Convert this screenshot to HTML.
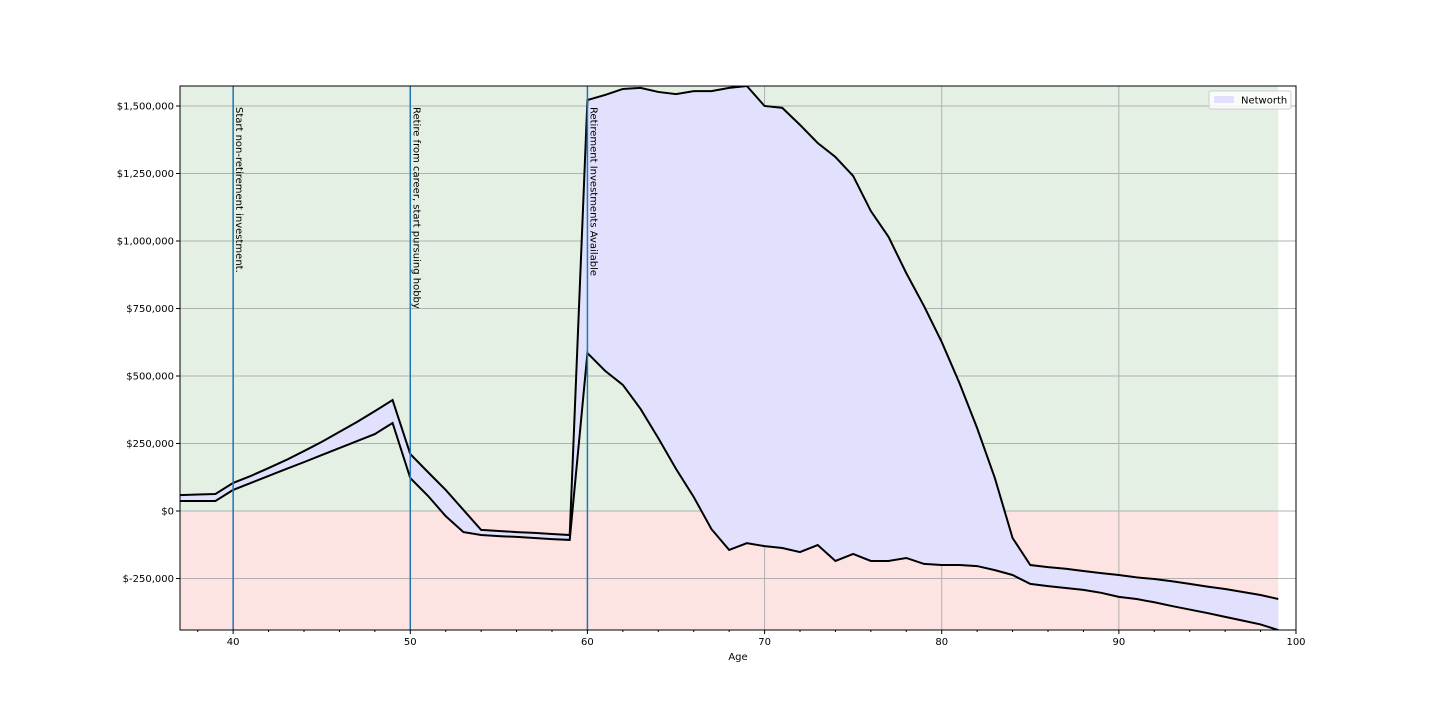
<!DOCTYPE html>
<html><head><meta charset="utf-8"><style>
body{margin:0;background:#fff;}
svg{display:block;font-family:"DejaVu Sans","Liberation Sans",sans-serif;}
</style></head><body>
<svg id="chart" width="1440" height="720"></svg>
<script>
const ages=[];for(let a=37;a<=99;a++)ages.push(a);
const upper=[59,61,63,104,130,159,189,222,256,293,330,370,411,211,144,78,4,-70,-74,-78,-81,-85,-89,1522,1541,1563,1567,1552,1544,1555,1555,1567,1574,1500,1493,1430,1363,1311,1241,1111,1015,881,759,626,474,307,122,-100,-200,-208,-214,-222,-230,-237,-246,-252,-260,-270,-280,-289,-300,-311,-326];
const lower=[37,37,37,78,104,130,156,181,207,233,259,285,326,122,56,-19,-78,-89,-93,-96,-100,-104,-107,585,519,467,378,270,156,52,-67,-144,-119,-130,-137,-152,-126,-185,-159,-185,-185,-174,-196,-200,-200,-204,-219,-237,-270,-278,-285,-292,-303,-318,-326,-338,-352,-365,-378,-392,-406,-420,-441];
const yTicks=[-250,0,250,500,750,1000,1250,1500];
const yTickLabels=["$-250,000","$0","$250,000","$500,000","$750,000","$1,000,000","$1,250,000","$1,500,000"];
const xTicks=[40,50,60,70,80,90,100];
const events=[40,50,60];
const eventLabels=["Start non-retirement investment.","Retire from career, start pursuing hobby","Retirement Investments Available"];
const L=180,R=1296,T=86,B=630,X0=37,X1=100,Y0=-440.7,Y1=1574;
const sx=v=>L+(v-X0)/(X1-X0)*(R-L);
const sy=v=>B-(v-Y0)/(Y1-Y0)*(B-T);
const NS="http://www.w3.org/2000/svg";
const svg=document.getElementById('chart');
function mk(tag,attrs,parent){const e=document.createElementNS(NS,tag);for(const k in attrs)e.setAttribute(k,attrs[k]);(parent||svg).appendChild(e);return e;}
const defs=mk('defs',{});const cp=mk('clipPath',{id:'clip'},defs);mk('rect',{x:L,y:T,width:R-L,height:B-T},cp);
const g=mk('g',{'clip-path':'url(#clip)'});
let e=mk('rect',{x:sx(X0),y:T,width:sx(99)-sx(X0),height:sy(0)-T,fill:'#e5f0e5'},g);


e=mk('rect',{x:sx(X0),y:sy(0),width:sx(99)-sx(X0),height:B-sy(0),fill:'#fee3e3'},g);


yTicks.forEach(v=>{mk('line',{x1:L,x2:R,y1:sy(v),y2:sy(v),stroke:'#b0b0b0','stroke-width':1},g);});
xTicks.forEach(v=>{mk('line',{x1:sx(v),x2:sx(v),y1:T,y2:B,stroke:'#b0b0b0','stroke-width':1},g);});
let pts=ages.map((a,i)=>sx(a)+','+sy(upper[i]));
let pts2=ages.map((a,i)=>sx(a)+','+sy(lower[i])).reverse();
e=mk('polygon',{points:pts.concat(pts2).join(' '),fill:'#e1e1fd'},g);


e=mk('polyline',{points:pts.join(' '),fill:'none',stroke:'#000','stroke-width':2},g);


e=mk('polyline',{points:pts2.join(' '),fill:'none',stroke:'#000','stroke-width':2},g);


events.forEach((a,i)=>{
 e=mk('line',{x1:sx(a),x2:sx(a),y1:T,y2:B,stroke:'#1f77b4','stroke-width':1.5},g);
 
 
 e=mk('text',{x:0,y:0,transform:`translate(${sx(a)+3},${sy(1500)+1}) rotate(90)`,'font-size':10,fill:'#000'});
 e.textContent=eventLabels[i];
 
 
});
e=mk('rect',{x:L,y:T,width:R-L,height:B-T,fill:'none',stroke:'#000','stroke-width':1});


yTicks.forEach((v,i)=>{
 mk('line',{x1:L-4,x2:L,y1:sy(v),y2:sy(v),stroke:'#000'});
 e=mk('text',{x:L-6,y:sy(v)+3.5,'text-anchor':'end','font-size':10,fill:'#000'});
 e.textContent=yTickLabels[i];
 
 
});
xTicks.forEach(v=>{
 mk('line',{x1:sx(v),x2:sx(v),y1:B,y2:B+4,stroke:'#000'});
 e=mk('text',{x:sx(v),y:B+15,'text-anchor':'middle','font-size':10,fill:'#000'});
 e.textContent=v;
 
 
});
for(let m=38;m<100;m+=2){if(m%10)mk('line',{x1:sx(m),x2:sx(m),y1:B,y2:B+2,stroke:'#000'});}
e=mk('text',{x:(L+R)/2,y:B+30,'text-anchor':'middle','font-size':10,fill:'#000'});
e.textContent='Age';


const lg=mk('g',{});


mk('rect',{x:1209,y:91,width:82,height:18,fill:'#fff','fill-opacity':0.8,stroke:'#ccc',rx:2},lg);
mk('rect',{x:1214,y:96,width:20,height:7,fill:'#e1e1fd'},lg);
e=mk('text',{x:1241,y:103.5,'font-size':10,fill:'#000'},lg);
e.textContent='Networth';


</script>
</body></html>
